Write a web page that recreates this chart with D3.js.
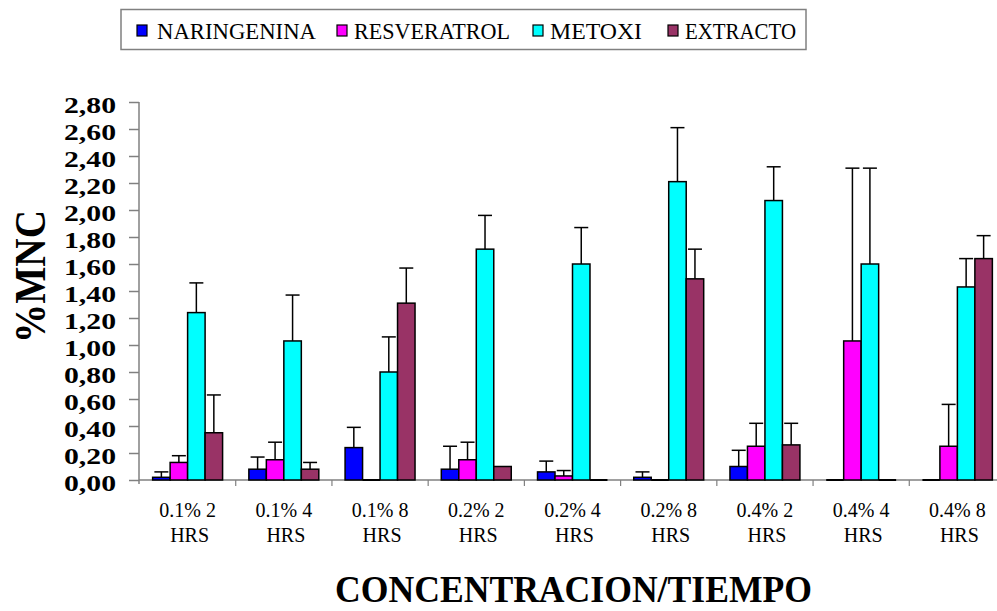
<!DOCTYPE html>
<html>
<head>
<meta charset="utf-8">
<script src="https://cdn.jsdelivr.net/npm/d3@7"></script>
<style>
  html, body { margin: 0; padding: 0; background: #fff; }
  svg { display: block; }
  svg text { font-family: "Liberation Serif", "Times New Roman", Times, Tinos, serif; }
</style>
</head>
<body>
<svg id="chart" width="997" height="611"></svg>
<script>
// ---- data ----
const categoryLine1 = ["0.1% 2", "0.1% 4", "0.1% 8", "0.2% 2", "0.2% 4", "0.2% 8", "0.4% 2", "0.4% 4", "0.4% 8"];
const categoryLine2 = ["HRS", "HRS", "HRS", "HRS", "HRS", "HRS", "HRS", "HRS", "HRS"];
const seriesNames = ["NARINGENINA", "RESVERATROL", "METOXI", "EXTRACTO"];
const naringenina    = [0.02, 0.08, 0.24, 0.08, 0.06, 0.02, 0.10, 0, 0];
const naringeninaErr = [0.04, 0.09, 0.15, 0.17, 0.08, 0.04, 0.12, 0, 0];
const resveratrol    = [0.13, 0.15, 0, 0.15, 0.03, 0, 0.25, 1.03, 0.25];
const resveratrolErr = [0.05, 0.13, 0, 0.13, 0.04, 0, 0.17, 1.28, 0.31];
const metoxi         = [1.24, 1.03, 0.80, 1.71, 1.60, 2.21, 2.07, 1.60, 1.43];
const metoxiErr      = [0.22, 0.34, 0.26, 0.25, 0.27, 0.40, 0.25, 0.71, 0.21];
const extracto       = [0.35, 0.08, 1.31, 0.10, 0, 1.49, 0.26, 0, 1.64];
const extractoErr    = [0.28, 0.05, 0.26, 0, 0, 0.22, 0.16, 0, 0.17];
const yTicks = [0, 0.2, 0.4, 0.6, 0.8, 1.0, 1.2, 1.4, 1.6, 1.8, 2.0, 2.2, 2.4, 2.6, 2.8];
const colors = ["#0000FF", "#FF00FF", "#00FFFF", "#993366"];

const values = [naringenina, resveratrol, metoxi, extracto];
const errors = [naringeninaErr, resveratrolErr, metoxiErr, extractoErr];

const svg = d3.select("#chart");
const categories = categoryLine1.map((d, i) => d + " " + categoryLine2[i]);

const x = d3.scaleBand().domain(categories).range([139.5, 1005.5]).paddingInner(0.273).paddingOuter(0.1365);
const xs = d3.scaleBand().domain(seriesNames).range([0, x.bandwidth()]);
const y = d3.scaleLinear().domain([0, 2.8]).range([480, 102]);
const axisColor = "#808080";

// y axis
const yAxisG = svg.append("g").attr("transform", "translate(139,0)")
  .call(d3.axisLeft(y).tickValues(yTicks).tickSize(10).tickPadding(13)
    .tickFormat(d => d3.format(".2f")(d).replace(".", ",")));
yAxisG.attr("font-family", null);
yAxisG.select(".domain").attr("stroke", axisColor).attr("stroke-width", 1.5).attr("d", "M-0,102V484");
yAxisG.selectAll(".tick line").attr("stroke", axisColor).attr("stroke-width", 1.5);
yAxisG.selectAll(".tick text")
  .attr("fill", "#000").attr("font-size", 24).attr("font-weight", "bold")
  .attr("dy", "0.42em")
  .attr("textLength", 52).attr("lengthAdjust", "spacingAndGlyphs");

// x axis baseline
svg.append("line").attr("x1", 139).attr("x2", 997).attr("y1", y(0)).attr("y2", y(0))
  .attr("stroke", axisColor).attr("stroke-width", 1.5);
// x ticks at band boundaries
const step = x.step();
const boundaries = categories.slice(1).map(c => x(c) - x.paddingInner() * step / 2);
svg.selectAll(".xtick").data(boundaries).enter().append("line")
  .attr("x1", d => d).attr("x2", d => d).attr("y1", y(0)).attr("y2", y(0) + 6)
  .attr("stroke", axisColor).attr("stroke-width", 1.2);

// x labels
const xl = svg.append("g");
categories.forEach((c, i) => {
  const cx = x(c) + x.bandwidth() / 2;
  xl.append("text").attr("x", cx).attr("y", 517).attr("text-anchor", "middle")
    .attr("font-size", 20).text(categoryLine1[i]);
  xl.append("text").attr("x", cx + 2).attr("y", 542).attr("text-anchor", "middle")
    .attr("font-size", 20).text(categoryLine2[i]);
});

// bars
seriesNames.forEach((s, si) => {
  const g = svg.append("g");
  categories.forEach((c, ci) => {
    const v = values[si][ci];
    const e = errors[si][ci];
    const bx = x(c) + xs(s);
    const bw = xs.bandwidth();
    if (v > 0) {
      g.append("rect").attr("x", bx).attr("y", y(v)).attr("width", bw).attr("height", y(0) - y(v))
        .attr("fill", colors[si]).attr("stroke", "#000").attr("stroke-width", 1.5);
    } else {
      g.append("line").attr("x1", bx).attr("x2", bx + bw).attr("y1", y(0)).attr("y2", y(0))
        .attr("stroke", "#000").attr("stroke-width", 2);
    }
    if (e > 0) {
      const cx = bx + bw / 2;
      g.append("line").attr("x1", cx).attr("x2", cx).attr("y1", y(v)).attr("y2", y(v + e))
        .attr("stroke", "#000").attr("stroke-width", 1.5);
      g.append("line").attr("x1", cx - 7).attr("x2", cx + 7).attr("y1", y(v + e)).attr("y2", y(v + e))
        .attr("stroke", "#000").attr("stroke-width", 1.5);
    }
  });
});

// axis titles
svg.append("text").attr("transform", "translate(45,276.5) rotate(-90)")
  .attr("text-anchor", "middle").attr("font-size", 44).attr("font-weight", "bold")
  .attr("textLength", 133).attr("lengthAdjust", "spacingAndGlyphs").text("%MNC");
svg.append("text").attr("x", 573.5).attr("y", 602).attr("text-anchor", "middle")
  .attr("font-size", 37).attr("font-weight", "bold")
  .attr("textLength", 477).attr("lengthAdjust", "spacingAndGlyphs").text("CONCENTRACION/TIEMPO");

// legend
const legend = svg.append("g");
legend.append("rect").attr("x", 121).attr("y", 9.5).attr("width", 685).attr("height", 40)
  .attr("fill", "#fff").attr("stroke", axisColor).attr("stroke-width", 1.5);
const legendMarkerX = [137, 337, 533, 668];
const legendTextX = [157, 354, 550, 685];
const legendTextW = [159, 156, 92, 111];
seriesNames.forEach((s, i) => {
  legend.append("rect").attr("x", legendMarkerX[i]).attr("y", 25).attr("width", 10).attr("height", 11)
    .attr("fill", colors[i]).attr("stroke", "#000").attr("stroke-width", 1.2);
  legend.append("text").attr("x", legendTextX[i]).attr("y", 39).attr("font-size", 23)
    .attr("textLength", legendTextW[i]).attr("lengthAdjust", "spacingAndGlyphs").text(s);
});
</script>
</body>
</html>
